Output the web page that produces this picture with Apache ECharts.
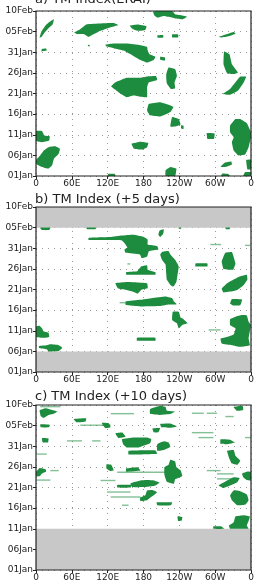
<!DOCTYPE html>
<html>
<head>
<meta charset="utf-8">
<script src="https://cdn.jsdelivr.net/npm/echarts@6/dist/echarts.min.js"></script>
<style>
html, body { margin: 0; padding: 0; background: #fff; }
#chart { width: 257px; height: 585px; }
</style>
</head>
<body>
<div id="chart"></div>
<script>
// tick labels
const xLabels = ['0', '60E', '120E', '180', '120W', '60W', '0'];
const yLabels = ['01Jan', '06Jan', '11Jan', '16Jan', '21Jan', '26Jan', '31Jan', '05Feb', '10Feb'];
const titles = ['a) TM Index(ERAI)', 'b) TM Index (+5 days)', 'c) TM Index (+10 days)'];

// blocked areas, outlines as [lon, day since 01Jan]
const blobsA = [
  [[6,33.5],[9,35],[16,36.5],[24,37.5],[30,38],[28,36.8],[21,35.8],[14,34.7],[10,33.8]],
  [[9,30.2],[18,30.4],[17,30.9],[10,30.8]],
  [[64,34.8],[74,35.6],[85,36.8],[108,37],[130,37.1],[138,36.6],[124,36],[108,35.2],[97,34.4],[88,33.7],[80,34.4],[69,34.4]],
  [[157,36.4],[170,36.7],[185,36.3],[183,35.4],[172,35.2],[162,35.6]],
  [[116,31.8],[130,32.1],[152,32.1],[175,31.7],[186,31.3],[187,30.4],[190,29.5],[200,28.9],[197,28.1],[186,27.5],[175,28.1],[163,29.1],[147,30.4],[130,31],[118,31.4]],
  [[208,28.9],[216,28.7],[216,28],[208,28.2]],
  [[203,34.1],[213,34.2],[213,33.6],[204,33.5]],
  [[228,34.3],[238,34.3],[238,33.6],[228,33.6]],
  [[87,31.8],[90,31.7],[90,31.4],[87,31.5]],
  [[126,21.7],[133,22.7],[152,23.8],[175,23.8],[186,24.1],[201,24.2],[203,23.3],[189,22.7],[186,21.5],[186,19.1],[175,19.2],[163,19.5],[152,19.1],[141,20],[133,20.9]],
  [[222,26.3],[233,25.9],[236,24.3],[232,22.7],[233,21.3],[226,21.1],[219,22.5],[218,24.6]],
  [[189,17.5],[208,17.9],[230,16.8],[225,15.5],[208,14.4],[191,14.7],[186,15.9]],
  [[228,14.3],[239,13.8],[242,12.5],[233,12],[225,12]],
  [[243,12.3],[247,12.2],[247,11.4],[243,11.5]],
  [[160,7.8],[175,8.3],[188,8],[186,7],[178,6.4],[164,6.6]],
  [[0,10.9],[10,10.9],[14,9.8],[23,9.6],[22,8.6],[10,8.2],[0,8.5]],
  [[0,3.9],[7,5],[13,6.2],[21,7],[32,7.2],[40,6.6],[38,5.4],[30,4.2],[27,2.6],[21,1.8],[10,2.2],[0,3]],
  [[120,0],[133,0],[132,0.5],[121,0.5]],
  [[217,1.4],[225,2.2],[235,1.8],[233,0],[217,0]],
  [[315,30.2],[324,29.5],[328,27.1],[338,25.1],[331,24.7],[320,24.9],[314,27.1]],
  [[313,19.9],[325,21.1],[334,22.7],[342,24.1],[352,24.1],[348,22.7],[339,20.8],[325,19.7]],
  [[334,13.8],[342,13.8],[353,12.8],[360,10.6],[360,9.4],[356,7],[350,5.2],[339,5],[331,6.2],[328,8.2],[331,9.4],[325,10.6],[325,12.2]],
  [[286,10.4],[299,10.3],[298,9],[287,9]],
  [[309,2.2],[316,3.2],[327,3.5],[328,2.8],[318,2.2]],
  [[352,3.9],[360,4],[360,1.6],[354,1.6]],
  [[310,0],[325,0],[322,0.5],[312,0.6]],
  [[347,0],[360,0],[360,0.9],[350,0.9]],
  [[196,39.9],[203,40],[228,40],[233,39.2],[245,38.9],[253,38.6],[246,38],[233,38.2],[222,38.6],[214,38.8],[203,38.4],[198,39]],
  [[306,33.7],[320,34.4],[331,34.9],[334,34.5],[323,33.9],[310,33.6]]
];

const blobsB = [
  [[7,35],[24,35],[22,34.4],[10,34.4]],
  [[84,35],[101,35],[99,34.6],[86,34.6]],
  [[317,35],[325,35],[324,34.6],[318,34.6]],
  [[239,35],[243,35],[243,34.7],[239,34.7]],
  [[207,34.3],[214,34.6],[213,33.5],[208,32.7],[205,33.3]],
  [[88,32.5],[124,32.7],[144,33.1],[163,33.3],[180,32.8],[187,32.1],[187,30.9],[203,30.5],[205,29.7],[189,29.3],[186,28],[177,27.6],[174,28.5],[150,28.9],[148,29.7],[153,30.2],[148,31.3],[144,31.9],[124,32],[88,32]],
  [[211,29.1],[222,29.3],[225,28.5],[233,27.2],[239,25.6],[237,23.6],[235,21.8],[230,20.7],[225,21.1],[219,22.4],[218,24],[217,26],[211,27.2],[208,28.5]],
  [[151,24.2],[169,24.4],[176,25.6],[186,25.9],[187,24.8],[200,24.2],[200,23.6],[151,23.6]],
  [[133,21.5],[152,21.8],[186,21.5],[187,20.3],[176,19.9],[170,19],[162,19.5],[151,19.9],[137,20.3]],
  [[150,17.1],[175,17.5],[194,17.9],[217,18.3],[228,17.9],[231,17.1],[236,16.4],[219,16.3],[208,16],[175,15.9],[150,16.3]],
  [[229,14.6],[239,14.6],[242,13.2],[247,12.8],[254,11.8],[245,11.4],[239,10.6],[236,11.8],[228,12.6]],
  [[169,8.3],[200,8.3],[200,7.6],[169,7.6]],
  [[0,11],[6,11.2],[10,10.6],[13,9.8],[21,9.5],[22,8.5],[13,8.3],[0,8.5]],
  [[5,6.3],[18,6.5],[24,6.7],[38,6.5],[44,5.9],[38,5.1],[21,5],[18,5.5],[5,5.8]],
  [[317,28.9],[328,29.1],[331,27.9],[334,26.3],[330,24.8],[314,25],[311,26.8]],
  [[311,20.2],[320,21.5],[331,22.4],[342,23.2],[353,23.6],[354,22.4],[348,21.1],[337,19.9],[325,19.5],[314,19.3]],
  [[328,17.7],[345,17.6],[342,16.2],[330,16.1],[325,16.6]],
  [[325,12.8],[334,13.4],[345,13.8],[353,13.7],[356,12.2],[360,11.4],[358,9.8],[356,8.1],[358,6.5],[342,6.1],[328,6.5],[311,6.9],[309,8.1],[320,8.5],[331,9.1],[334,10.6],[325,11.4]],
  [[267,26.3],[287,26.3],[287,25.6],[267,25.6]]
];

const blobsC = [
  [[6,38.7],[16,39.2],[24,38.9],[36,38.4],[30,37.9],[21,37.6],[13,36.9],[8,37.3]],
  [[7,35.3],[23,35.2],[22,34.6],[8,34.6]],
  [[10,32],[21,31.9],[20,30.9],[11,31]],
  [[0,23.7],[6,24.7],[16,24.4],[17,23.9],[10,23.4],[6,22.7],[0,22.7]],
  [[63,36.6],[84,36.8],[83,36],[68,35.8]],
  [[110,35.7],[122,35.6],[125,34.6],[116,34.4]],
  [[133,33.1],[145,33.3],[150,32.3],[138,32]],
  [[144,31.7],[164,32.1],[186,32.1],[193,31.7],[191,30.7],[180,30.1],[172,29.7],[152,29.7],[146,30.5]],
  [[155,28.9],[200,29],[203,28.2],[155,28]],
  [[203,30.5],[214,31.2],[222,30.9],[225,29.9],[214,29.1],[203,28.9]],
  [[191,39],[208,39.8],[217,39.5],[219,38.6],[233,38.4],[225,37.8],[208,37.6],[191,37.9]],
  [[195,34.3],[208,34.4],[205,33.4],[197,33.4]],
  [[208,35.4],[225,35.5],[236,34.8],[225,34.5],[210,34.6]],
  [[225,26.7],[233,26.3],[235,25],[242,24.2],[245,22.8],[233,22],[231,20.9],[219,21.4],[215,23.1],[215,24.9],[222,25.5]],
  [[118,25.6],[126,25.5],[130,24.2],[124,24],[118,24.6]],
  [[151,24.6],[170,24.9],[175,24.1],[151,23.8]],
  [[158,21],[175,21.7],[186,21.8],[197,21.7],[207,21.2],[200,20.5],[180,20.1],[161,20.1]],
  [[136,20.6],[159,20.6],[159,20],[136,20]],
  [[186,19.3],[194,19.4],[203,18.9],[197,18.1],[191,17.5],[186,16.9],[175,16.7],[174,17.5],[183,18.1]],
  [[202,16.4],[228,16.4],[226,15.7],[203,15.7]],
  [[237,13],[245,12.8],[244,12],[238,11.9]],
  [[309,31.7],[325,31.6],[333,30.9],[320,30.5],[309,30.6]],
  [[320,28.9],[331,29.1],[334,27.7],[342,26.5],[337,25.5],[328,25.8],[323,27.3]],
  [[306,20.5],[320,21.7],[331,22.5],[341,22.3],[337,21.3],[325,20.5],[314,19.9]],
  [[345,23.4],[355,23.9],[360,23.8],[360,21.7],[352,21.9],[347,22.5]],
  [[331,19.3],[342,19.1],[353,18.3],[356,16.9],[351,15.9],[337,15.7],[328,16.9],[325,18.1]],
  [[334,13],[348,13.3],[358,13],[356,11.9],[353,10.8],[356,10],[342,10],[325,10],[323,10.8],[331,11.6]],
  [[297,10.6],[310,10.6],[315,10],[297,10]],
  [[331,39.5],[346,39.8],[347,38.8],[336,38.6]]
];

// one-step events: [lon start, lon end, day]
const linesB = [
  [289, 309, 10.2], [292, 310, 30.9], [350, 359, 30.7], [153, 158, 26.2], [140, 150, 16.8]
];
const linesC = [
  [7, 41, 39.6], [125, 164, 37.9], [261, 281, 38], [286, 303, 38], [317, 331, 37.2],
  [74, 125, 35.1], [261, 297, 33.3], [272, 297, 32.1], [350, 360, 32.1], [52, 77, 31.3],
  [94, 108, 31.3], [2, 18, 28.1], [136, 219, 23.7], [108, 133, 21.7], [0, 24, 21.8],
  [119, 158, 18.9], [125, 175, 17.7], [144, 155, 15.7], [303, 331, 23.3], [303, 331, 22.1],
  [286, 309, 24.1], [24, 38, 24.1]
];

// periods with no forecast: [day start, day end]
const grayB = [[0, 5], [35, 40]];
const grayC = [[0, 10]];

const GREEN = '#1d8c3e';
const FONT = 'DejaVu Sans';
const tops = [11, 207, 405];
const titleTops = [-7, 193, 390];

const chart = echarts.init(document.getElementById('chart'));

function blobSeries(i, blobs) {
  return {
    type: 'custom', xAxisIndex: i, yAxisIndex: i, z: 3, clip: true, silent: true,
    data: blobs.map((b, k) => [k]),
    renderItem: function (params, api) {
      const pts = blobs[api.value(0)].map(p => api.coord(p));
      return { type: 'polygon', shape: { points: pts, smooth: 0.1 }, style: { fill: GREEN } };
    }
  };
}

function lineSeries(i, lines) {
  return {
    type: 'custom', xAxisIndex: i, yAxisIndex: i, z: 3, clip: true, silent: true,
    data: lines,
    renderItem: function (params, api) {
      const a = api.coord([api.value(0), api.value(2)]);
      const b = api.coord([api.value(1), api.value(2)]);
      return { type: 'rect', shape: { x: a[0], y: a[1] - 0.7, width: b[0] - a[0], height: 1.4 },
        style: { fill: GREEN, opacity: 0.55 } };
    }
  };
}

function graySeries(i, bands) {
  return {
    type: 'custom', xAxisIndex: i, yAxisIndex: i, z: 1, silent: true,
    data: bands,
    renderItem: function (params, api) {
      const a = api.coord([0, api.value(1)]);
      const b = api.coord([360, api.value(0)]);
      return { type: 'rect', shape: { x: a[0], y: a[1], width: b[0] - a[0], height: b[1] - a[1] },
        style: { fill: '#c8c8c8' } };
    }
  };
}

const grids = [], xAxes = [], yAxes = [], titleText = [];
tops.forEach((t, i) => {
  grids.push({ left: 36, top: t, width: 215, height: 165, show: true, z: 10,
    borderColor: '#222', borderWidth: 1.2, backgroundColor: 'transparent' });
  titleText.push({ type: 'text', left: 35, top: titleTops[i], silent: true,
    style: { text: titles[i], font: '13px "DejaVu Sans"', fill: '#222' } });
  xAxes.push({
    gridIndex: i, type: 'value', min: 0, max: 360, interval: 60,
    axisLine: { show: false },
    axisTick: { show: true, length: 3, lineStyle: { color: '#222' } },
    axisLabel: { formatter: v => xLabels[v / 60], fontFamily: FONT, fontSize: 9, color: '#222', margin: 3 },
    splitLine: { show: true, lineStyle: { color: '#999', type: [1, 5], width: 1 } }
  });
  yAxes.push({
    gridIndex: i, type: 'value', min: 0, max: 40, interval: 5,
    axisLine: { show: false },
    axisTick: { show: true, length: 3, lineStyle: { color: '#222' } },
    axisLabel: { formatter: v => yLabels[v / 5], fontFamily: FONT, fontSize: 9, color: '#222', margin: 3 },
    splitLine: { show: true, lineStyle: { color: '#999', type: [1, 5], width: 1 } }
  });
});

chart.setOption({
  animation: false,
  graphic: titleText,
  grid: grids,
  xAxis: xAxes,
  yAxis: yAxes,
  series: [
    blobSeries(0, blobsA),
    graySeries(1, grayB),
    blobSeries(1, blobsB),
    lineSeries(1, linesB),
    graySeries(2, grayC),
    blobSeries(2, blobsC),
    lineSeries(2, linesC)
  ]
});
</script>
</body>
</html>
